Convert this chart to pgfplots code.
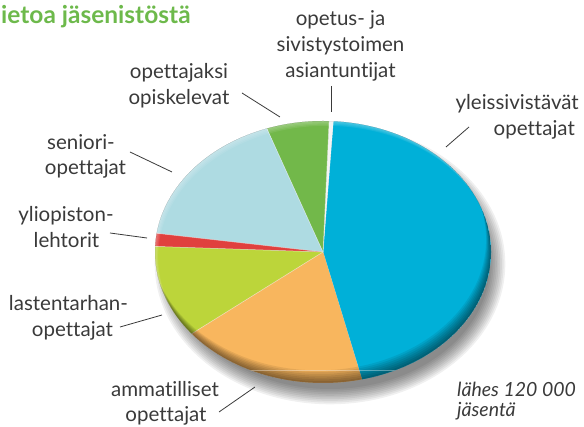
\documentclass[border=0pt]{standalone}
\usepackage{pgfplots}
\usepackage{pgfplotstable}
\pgfplotsset{compat=1.18}
\usepackage{fontspec}
\setmainfont{Lato}[Ligatures={NoCommon}]
\definecolor{cBlue}{HTML}{00B0D8}
\definecolor{cWhite}{HTML}{F4F4F4}
\definecolor{cGreen}{HTML}{72B84A}
\definecolor{cLight}{HTML}{AEDBE2}
\definecolor{cRed}{HTML}{E0403E}
\definecolor{cYG}{HTML}{BCD53A}
\definecolor{cOrange}{HTML}{F8B65E}
\definecolor{cText}{HTML}{3A3A3A}
\definecolor{cTitle}{HTML}{6DB94B}
% share of members, percent, counter-clockwise from the lower boundary of the big slice
\pgfplotstableread{
name value color
yleissivistavat 45.3 cBlue
opetus 0.4 cWhite
opiskelevat 6.0 cGreen
seniori 17.3 cLight
yliopisto 1.6 cRed
lastentarha 11.4 cYG
ammatilliset 18.0 cOrange
}\piedata
\begin{document}
\begin{tikzpicture}
\begin{axis}[name=ax, scale only axis, width=584pt, height=427pt,
  xmin=0, xmax=584, ymin=0, ymax=427, hide axis, clip=false]
\addplot[draw=none] coordinates {(0,0) (584,427)};
\pgfplotsextra{
  % shadow
  \foreach \k in {0,...,9}{
    \fill[black, opacity=0.06] (axis cs:330,163) ellipse[x radius={160pt+\k*1.7pt}, y radius={125pt+\k*1.7pt}];
  }
  \pgfplotstablegetrowsof{\piedata}
  \pgfmathtruncatemacro\nrows{\pgfplotsretval-1}
  \xdef\cum{-76.6}
  \foreach \i in {0,...,\nrows}{
    \pgfplotstablegetelem{\i}{value}\of\piedata \let\v\pgfplotsretval
    \pgfplotstablegetelem{\i}{color}\of\piedata \let\c\pgfplotsretval
    \pgfmathsetmacro\a{\cum}
    \pgfmathsetmacro\b{\cum+3.6*\v}
    \fill[color=\c] (axis cs:323,175) -- ++(\a:168pt and 131pt)
      arc[start angle=\a, end angle=\b, x radius=168pt, y radius=131pt] -- cycle;
    \draw[white, opacity=0.6, line width=0.5pt] (axis cs:323,175) -- ++(\a:168pt and 131pt);
    \xdef\cum{\b}
  }
  % rim shading
  \begin{scope}
    \clip (axis cs:323,175) ellipse[x radius=168pt, y radius=131pt];
    \foreach \k in {1,...,7}{
      \fill[black, opacity=0.08, even odd rule] (axis cs:323,175) ellipse[x radius=168pt, y radius=131pt]
        (axis cs:{323-\k*0.7},{175+\k*1.8}) ellipse[x radius=168pt, y radius=131pt];
    }
    \foreach \k in {1,...,4}{
      \fill[white, opacity=0.08, even odd rule] (axis cs:323,175) ellipse[x radius=168pt, y radius=131pt]
        (axis cs:{323+\k*0.8},{175-\k*1.2}) ellipse[x radius=168pt, y radius=131pt];
    }
    \draw[white, opacity=0.35, line width=0.6pt] (axis cs:200,57) -- (axis cs:470,57);
  \end{scope}
  % leader lines
  \begin{scope}[cText, line width=0.8pt]
    \draw (axis cs:331,341) -- (axis cs:331,315);
    \draw (axis cs:446,280) -- (axis cs:469,300);
    \draw (axis cs:242,334) -- (axis cs:280,310);
    \draw (axis cs:130,275) -- (axis cs:172,255);
    \draw (axis cs:110,194) -- (axis cs:147,189);
    \draw (axis cs:120,100) -- (axis cs:162,112);
    \draw (axis cs:219,15) -- (axis cs:255,40);
  \end{scope}
}
\begin{scope}[every node/.style={font=\fontsize{20.5}{26}\selectfont, text=cText, inner sep=0pt}]
\node[anchor=base] at (axis cs:340.5,401) {opetus- ja};
\node[anchor=base] at (axis cs:340.5,375) {sivistystoimen};
\node[anchor=base] at (axis cs:340.5,349) {asiantuntijat};
\node[anchor=base east] at (axis cs:579,317) {yleissivistävät};
\node[anchor=base east] at (axis cs:575,291) {opettajat};
\node[anchor=base] at (axis cs:179,348) {opettajaksi};
\node[anchor=base] at (axis cs:179,322) {opiskelevat};
\node[anchor=base] at (axis cs:81,277) {seniori-};
\node[anchor=base] at (axis cs:85.5,252) {opettajat};
\node[anchor=base] at (axis cs:66,205) {yliopiston-};
\node[anchor=base] at (axis cs:66.5,179) {lehtorit};
\node[anchor=base] at (axis cs:68.5,116) {lastentarhan-};
\node[anchor=base] at (axis cs:72.5,90) {opettajat};
\node[anchor=base] at (axis cs:165,30) {ammatilliset};
\node[anchor=base] at (axis cs:166,5) {opettajat};
\node[anchor=base west, font=\fontsize{19.5}{20}\itshape] at (axis cs:457,30) {lähes 120 000};
\node[anchor=base west, font=\fontsize{19.5}{20}\itshape] at (axis cs:457,10) {jäsentä};
\node[anchor=base west, font=\fontsize{24.5}{28}\bfseries, text=cTitle] at (axis cs:1,403) {ietoa jäsenistöstä};
\end{scope}
\end{axis}
\pgfresetboundingbox
\path[use as bounding box] (ax.south west) rectangle (ax.north east);
\end{tikzpicture}
\end{document}
